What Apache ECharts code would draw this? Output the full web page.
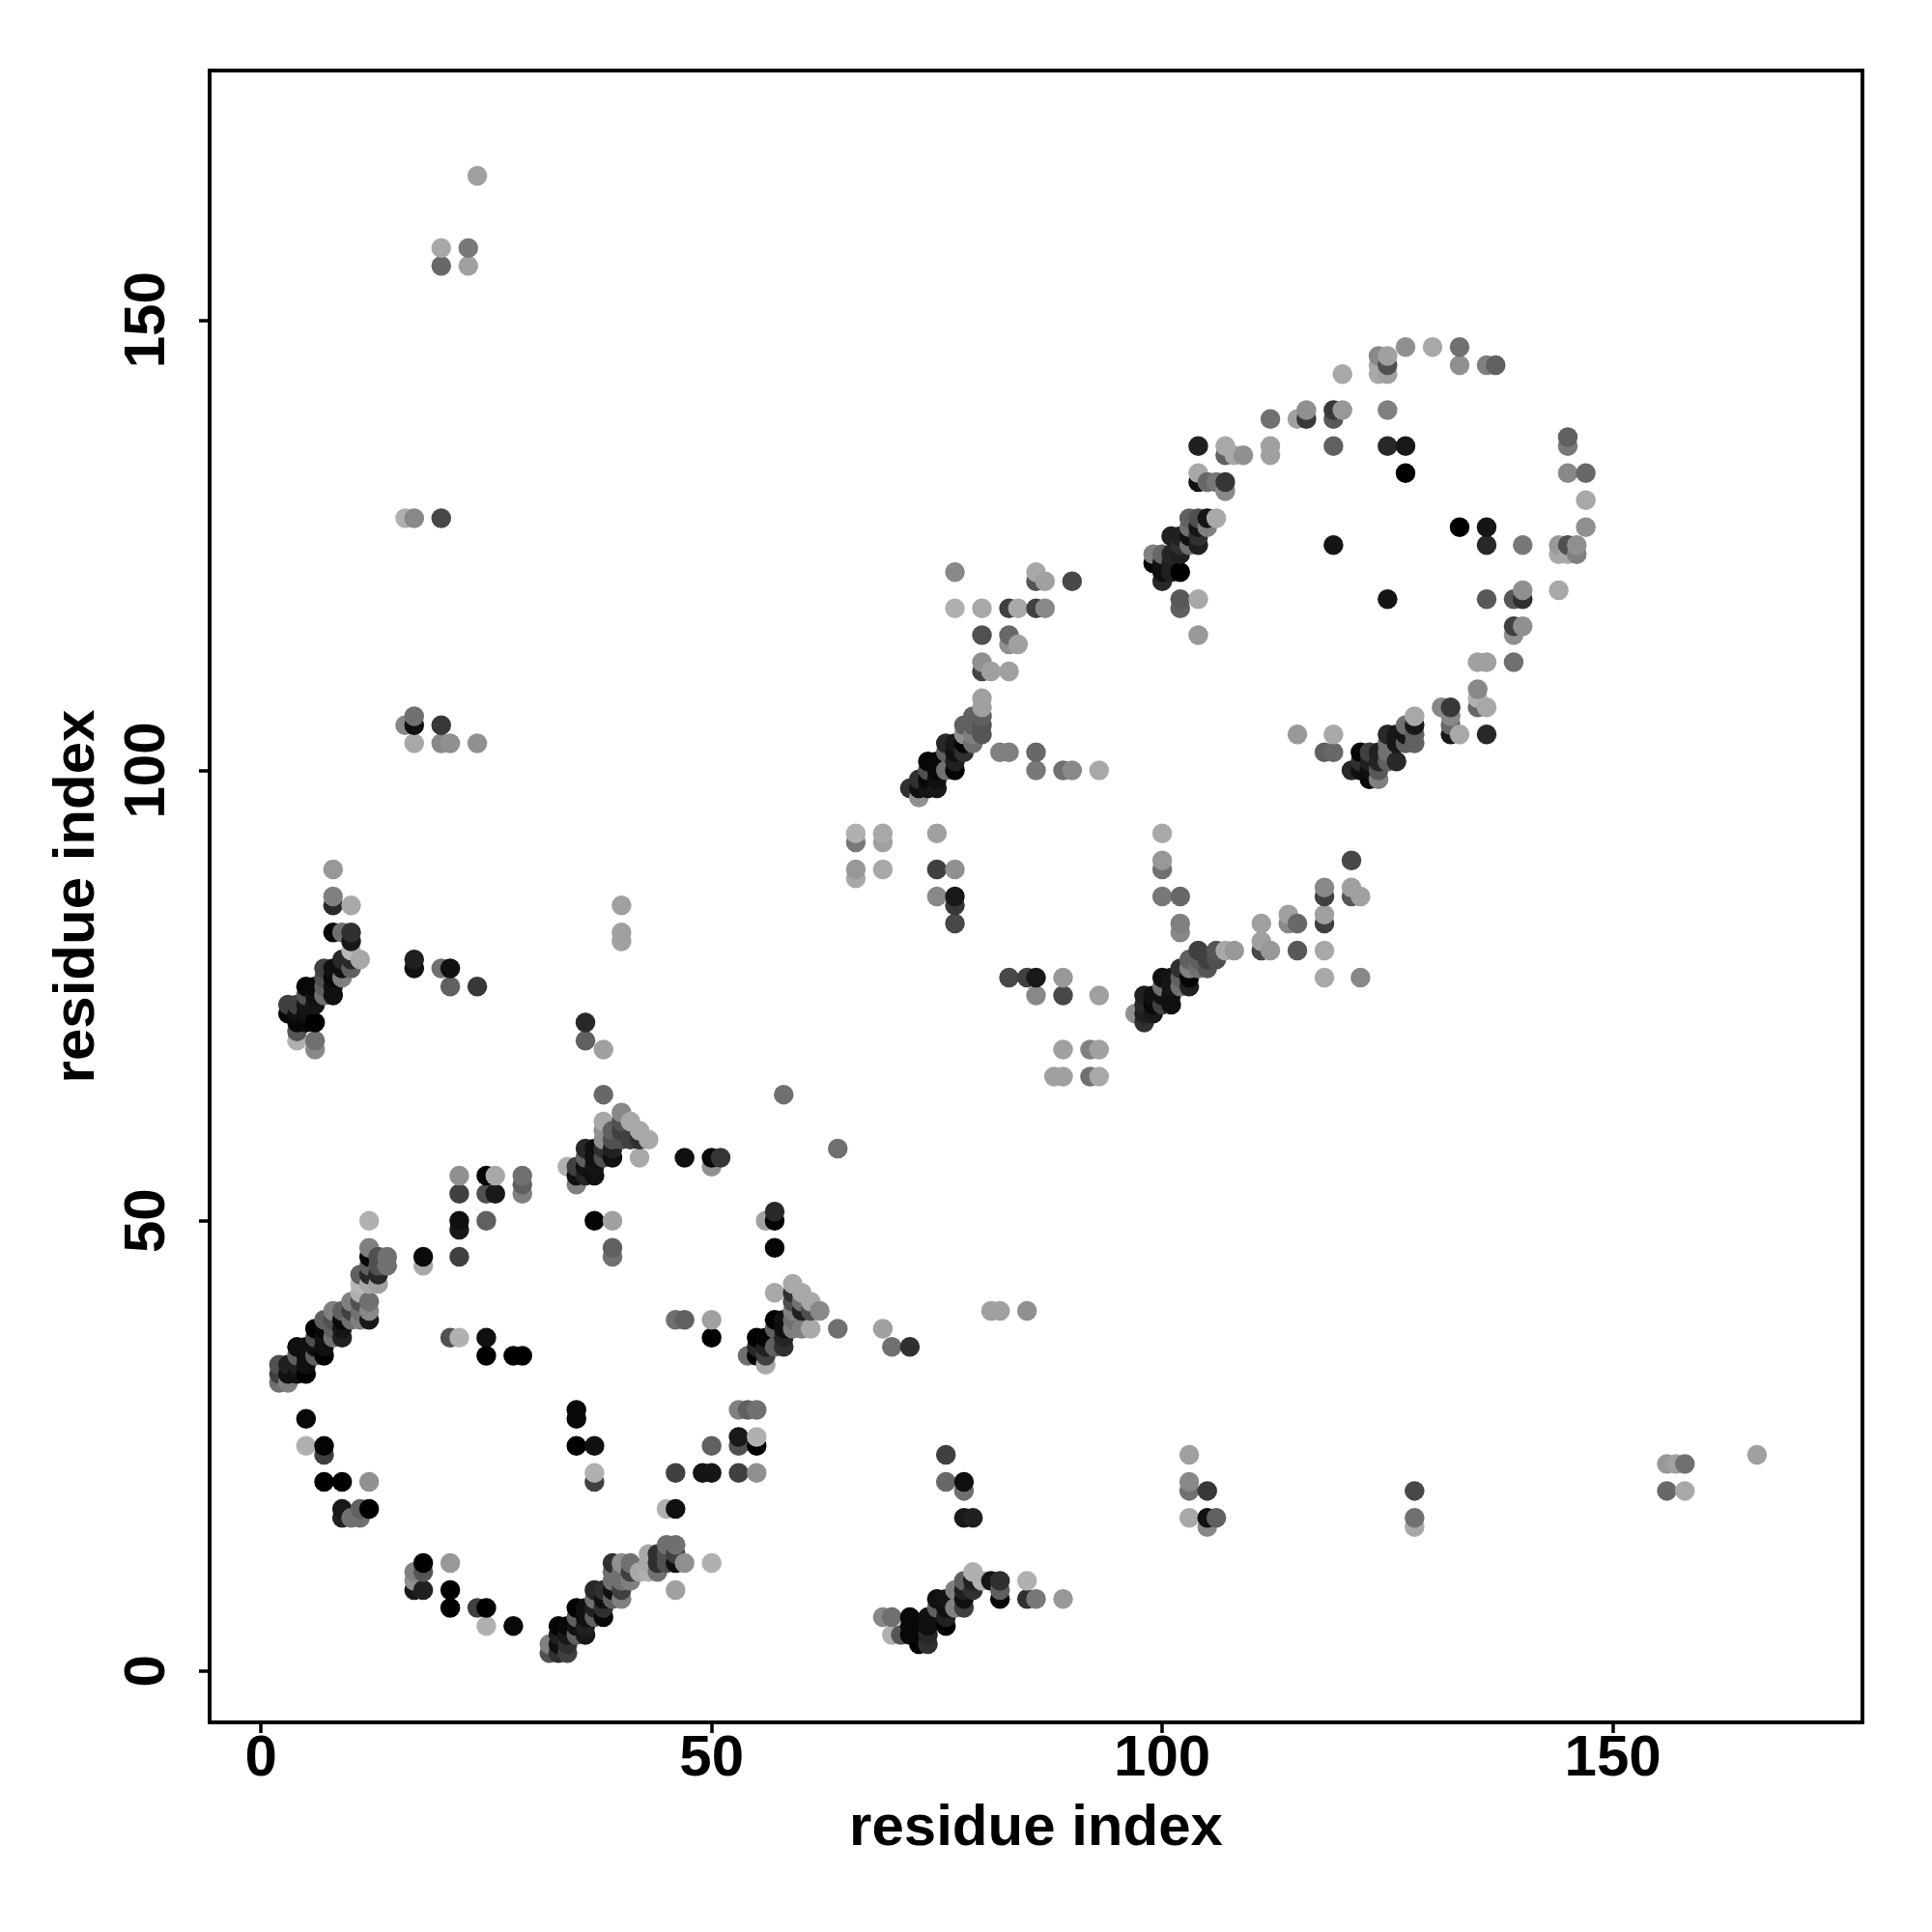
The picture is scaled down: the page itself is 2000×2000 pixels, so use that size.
<!DOCTYPE html>
<html>
<head>
<meta charset="utf-8">
<style>html,body{margin:0;padding:0;background:#fff}#c{width:2000px;height:2000px}</style>
<script src="https://cdn.jsdelivr.net/npm/echarts@6/dist/echarts.min.js"></script>
</head>
<body>
<div id="c"></div>
<script>
const tickValues = [0, 50, 100, 150];
const axisTitle = 'residue index';
const residueI = [2,3,4,5,6,7,8,9,10,11,12,13,14,16,17,18,20,21,22,23,24,25,26,28,29,32,33,34,35,36,37,38,39,40,41,42,43,44,45,46,47,49,50,51,53,54,55,56,57,58,59,60,61,62,64,66,69,70,71,72,73,74,75,76,77,78,79,80,81,82,83,84,85,86,87,88,89,90,92,93,97,98,99,100,101,102,103,104,105,106,107,108,109,111,112,114,115,116,118,119,120,121,122,123,124,125,126,127,128,130,131,132,133,135,136,137,139,140,144,145,146,147,156,157,158,166];
const partners = [
[32,33,34],
[32,33,34,73,74],
[33,34,35,36,70,71,72,73,74],
[25,28,33,34,35,36,72,73,74,75,76],
[35,36,37,38,69,70,72,74,75,76],
[21,24,25,35,36,37,38,39,75,76,77,78],
[37,38,39,40,75,76,77,78,82,85,86,89],
[17,18,21,37,38,39,40,77,78,79,82],
[17,39,40,41,78,79,80,81,82,85],
[17,18,39,40,41,42,43,44,79],
[18,21,39,40,41,43,44,45,46,47,50],
[43,44,45,46],
[45,46],
[105,128],
[9,10,11,78,79,103,105,106,128],
[9,11,12,45,46],
[78,103,105,128,156,158],
[7,9,12,37,76,78,103],
[37,46,49,50,53,55],
[156,158],
[7,76,103,166],
[5,7,35,37,50,53,55],
[53,55],
[5,35],
[35,53,54,55],
[2,3],
[2,3,4,5],
[2,3,4,5,56],
[4,5,6,7,25,28,29,54,55,56],
[4,5,6,7,55,56,57,58,70,72],
[6,7,8,9,21,22,25,50,55,56,57,58],
[6,7,8,9,57,58,59,60,61,64,69],
[8,9,10,11,12,46,47,50,57,58,59,60],
[8,9,10,11,12,59,60,61,62,81,82,85],
[10,11,12,59,61],
[11,57,59,60],
[11,12,13,59],
[11,12,13],
[12,13,14,18],
[9,12,13,14,18,22,39],
[12,39,57],
[22],
[12,22,25,37,39,56,57],
[57],
[22,25,26,29],
[29,35],
[22,25,26,29,35,36,37],
[34,35,36,37,50],
[36,38,39,42,47,50,51],
[36,37,38,39,64],
[38,39,40,41,42,43],
[38,40,41,42],
[38,40,41],
[40],
[38,58],
[88,89,92,93],
[6,38,89,92,93],
[4,6,36],
[4],
[4,5,6,36,98],
[3,4,5,97,98,99],
[3,4,5,6,98,99,100,101],
[6,7,8,86,89,93,98,99,100,101],
[5,6,7,8,21,24,100,102,103],
[7,9,83,85,86,89,100,101,102,103,118,122],
[7,8,9,10,17,20,21,102,103,104,105],
[9,10,11,17,103,104,105,106],
[10,104,105,106,107,108,111,112,115,118],
[10,40,111],
[8,9,10,40,102],
[77,102,111,114,115,118],
[114,118],
[8,10,40,77],
[8,75,77,100,102,118,121,122],
[118,121],
[66],
[8,66,69,75,77,100],
[100,121],
[66,69],
[66,69,75,100],
[73],
[72,73,74,75],
[73,74,75,123,124],
[74,75,76,77,86,89,90,93,121,122,123,124],
[74,75,76,77,122,123,124,126],
[76,77,78,82,83,86,118,119,122,124,125,126],
[17,20,21,24,76,77,78,79,125,126,127,128],
[78,79,80,115,119,125,126,127,128,132,133,136],
[16,17,20,78,79,127,128,132],
[17,79,80,128,132],
[80,131,132,135,136],
[80,135],
[135],
[80,81,83],
[80,135,136,139],
[83,84],
[80,83,104,139],
[139,140],
[77,80,83,84,86,87,102],
[102,104,125,136,139,140],
[140,144],
[86,87,90,100],
[77,86,100,101,102],
[99,100,101,102],
[99,100,101,102,144,145,146],
[101,102,103,104,119,136,140,144,145,146],
[101,103,104],
[103,104,105,133,136,147],
[16,17,20,103,104,105,106],
[147],
[107],
[104,105,106,107],
[104,127,145,147],
[107,108,109,112],
[104,107,112,119,125,127,145],
[145],
[112,115,116,119],
[116,119,120,125],
[120,124,125],
[124,125,133,136,137],
[124,125],
[127,130,133],
[20,23],
[23],
[20,23],
[24]
];
const shades = [
[0x70,0x40,0x50],
[0x80,0x10,0x20,0x08,0x40],
[0x10,0x20,0x60,0x10,0xb0,0x55,0x08,0x10,0x40],
[0xb0,0x08,0x00,0x10,0x10,0x10,0x08,0x10,0x15,0x50,0x08],
[0x60,0x10,0x50,0x00,0x88,0x70,0x00,0x15,0x10,0x08],
[0x00,0x40,0x05,0x00,0x10,0x10,0x08,0x60,0x70,0x60,0x50,0x40],
[0x70,0x60,0x50,0x80,0x10,0x10,0x08,0x10,0x08,0x28,0x80,0x98],
[0x20,0x18,0x00,0x20,0x15,0x08,0x60,0x80,0x10,0x28,0x70],
[0x70,0x70,0x40,0x80,0x60,0x28,0xb8,0x18,0x30,0xa8],
[0x70,0x60,0x80,0x70,0x50,0xb0,0xb8,0x60,0xa8],
[0x00,0x90,0x18,0x88,0x70,0xa8,0x28,0x60,0x08,0x80,0xb0],
[0xa0,0x28,0x50,0x50],
[0x70,0x70],
[0x88,0xb0],
[0x18,0x90,0x80,0x10,0x20,0xa8,0x10,0x70,0x88],
[0x20,0x55,0x00,0xa8,0x0a],
[0x70,0x88,0x38,0x48,0x68,0xa8],
[0x00,0x00,0x98,0x50,0x60,0x10,0x90],
[0xb0,0x40,0x18,0x10,0x40,0x90],
[0xa0,0x78],
[0x40,0x38,0x90,0xa0],
[0xb0,0x00,0x00,0x10,0x60,0x50,0x05],
[0x18,0xa8],
[0x08,0x00],
[0x00,0x80,0x60,0x70],
[0x50,0x80],
[0x30,0x10,0x20,0x05],
[0x40,0x30,0x18,0x08,0xb0],
[0x60,0x10,0x60,0x00,0x00,0x08,0x08,0x80,0x10,0x40],
[0x18,0x20,0x10,0x10,0x25,0x10,0x60,0x28,0x60,0x28],
[0x60,0x20,0x70,0x28,0x40,0xb0,0x10,0x05,0x10,0x15,0x10,0x10],
[0x08,0x30,0x10,0x30,0x50,0x30,0x90,0x90,0xa8,0x68,0xa0],
[0x60,0x10,0x70,0x70,0x30,0x70,0x60,0xa0,0x10,0x20,0x50,0x60],
[0x80,0x40,0x70,0x70,0x90,0x50,0x40,0x50,0x88,0xa0,0xa0,0xa0],
[0x80,0x40,0x70,0x40,0xa8],
[0xa8,0xa8,0x30,0xa8],
[0xb0,0xa8,0xa8,0xa8],
[0x70,0x30,0x30],
[0x50,0x50,0x70,0xb0],
[0xa0,0x10,0x40,0x70,0x10,0x40,0x70],
[0x90,0x60,0x10],
[0x15],
[0xb0,0x15,0x60,0x00,0xa0,0x90,0x08],
[0x35],
[0x40,0x50,0x18,0x80],
[0x60,0x70],
[0x90,0x00,0xb0,0x70,0x05,0x28,0x00],
[0xa8,0x40,0x20,0x05,0xa0],
[0x60,0x60,0x00,0xa8,0x05,0x05,0x28],
[0x30,0x25,0x10,0x10,0x70],
[0x80,0x70,0x80,0x50,0x30,0xa8],
[0x80,0x20,0x70,0xa8],
[0xa8,0x50,0xa8],
[0x88],
[0x70,0x70],
[0xa8,0x98,0x78,0xb0],
[0x88,0xa0,0xa8,0xa0,0xa8],
[0xb0,0x70,0x70],
[0x55],
[0x08,0x08,0x08,0x30,0x30],
[0x00,0x08,0x08,0x90,0x10,0x30],
[0x30,0x28,0x10,0x10,0x15,0x08,0x50,0x05],
[0x10,0x60,0x10,0x88,0x40,0xa0,0x18,0x10,0x08,0x08],
[0x00,0x20,0x10,0x15,0x68,0x40,0x70,0x60,0x28],
[0x80,0x80,0x48,0x38,0x18,0x90,0x05,0x20,0x10,0x18,0xb0,0x88],
[0x40,0x10,0x20,0x60,0x18,0x70,0x10,0x30,0x05,0x90,0x60],
[0x30,0x20,0xb0,0x20,0x70,0x80,0x60,0x60],
[0xb0,0x55,0x55,0x60,0xa0,0xa0,0x45,0x90,0x50,0xa8],
[0x15,0xa0,0xa0],
[0x08,0x60,0x30,0xa0,0x80],
[0x48,0x80,0xa0,0x90,0x68,0x40],
[0xa0,0xa8],
[0x30,0xb0,0x90,0x40],
[0x78,0x88,0x18,0x78,0x68,0x40,0x55,0xa8],
[0x88,0xa0],
[0xa0],
[0x98,0xa0,0xa0,0x48,0x98,0x70],
[0x88,0x48],
[0x70,0x80],
[0xa8,0xa0,0xa0,0xa8],
[0x90],
[0x30,0x20,0x28,0x20],
[0x18,0x08,0x10,0x05,0x80],
[0x40,0x10,0x70,0x10,0x78,0x70,0x98,0xa8,0x28,0x10,0x10,0x68],
[0x10,0x10,0x15,0x15,0x20,0x20,0x25,0x20],
[0x70,0x60,0x30,0x88,0x80,0x68,0x60,0x58,0x00,0x20,0x30,0x20],
[0xa8,0x70,0x88,0xa0,0x20,0x05,0x80,0x60,0x70,0x10,0x70,0x60],
[0x70,0x60,0x40,0x98,0xa8,0x20,0x30,0x15,0x50,0x10,0xa8,0x20],
[0x88,0x10,0x38,0x55,0x40,0x80,0x15,0x68],
[0x60,0x50,0x55,0xa8,0x78],
[0xa8,0x88,0x35,0x60,0xa8],
[0x98,0xa8],
[0x90],
[0x48,0xa0,0xa0],
[0x98,0xa0,0xa0,0x70],
[0x88,0xa0],
[0x58,0x68,0x98,0xa0],
[0x38,0x90],
[0xa8,0xa8,0x40,0xa0,0x40,0x88,0x60],
[0x68,0xa8,0x15,0x60,0x58,0x38],
[0x98,0xa8],
[0x55,0xa0,0x48,0x28],
[0x88,0xa0,0x10,0x30,0x05],
[0x08,0x10,0x20,0x40],
[0x80,0x58,0x25,0x20,0xa8,0xa8,0x88],
[0x60,0x70,0x70,0x28,0x15,0x28,0x80,0xa0,0x50,0xa0],
[0x28,0x18,0x18],
[0x60,0x15,0x70,0x00,0x18,0x90],
[0xa8,0x70,0x48,0x60,0x60,0x18,0xa8],
[0xa8],
[0x88],
[0x18,0x68,0x88,0x38],
[0xa8,0x00,0x90,0x70],
[0x68,0xb0,0x88,0xa0],
[0x28,0xa8,0xa0,0x58,0x28,0x15,0x80],
[0x60],
[0x70,0x90,0x40,0x58],
[0x90,0x30,0x90,0x78],
[0xa8,0xa8,0x98],
[0xa8,0x50,0x88,0x78,0x60],
[0x80,0x90],
[0x90,0xa8,0x68],
[0x68,0x98],
[0xa0],
[0xa8,0x70],
[0xa0]
];

const points = [];
residueI.forEach((x, i) => {
  partners[i].forEach((y, k) => points.push([x, y, shades[i][k]]));
});

const chart = echarts.init(document.getElementById('c'), null, {renderer: 'canvas', width: 2000, height: 2000});
const font = {fontFamily: '"Liberation Sans", Arial, sans-serif', fontWeight: 'bold', fontSize: 60, color: '#000'};
function axis(extra) {
  return Object.assign({
    type: 'value', min: -5.7, max: 177.7,
    name: axisTitle, nameLocation: 'middle',
    nameMoveOverlap: false,
    nameTextStyle: font,
    axisLine: {show: false, onZero: false},
    axisTick: {show: true, length: 11, lineStyle: {color: '#000', width: 3.5}, customValues: tickValues},
    splitLine: {show: false}
  }, extra);
}
chart.setOption({
  animation: false,
  backgroundColor: '#fff',
  grid: {left: 217, right: 72, top: 73, bottom: 217, show: true, borderColor: '#000', borderWidth: 4, backgroundColor: 'transparent'},
  xAxis: axis({nameGap: 80, axisLabel: Object.assign({margin: 8, customValues: tickValues}, font)}),
  yAxis: axis({nameGap: 107, nameRotate: 90, axisLabel: Object.assign({margin: 64, rotate: 90, customValues: tickValues, verticalAlign: 'middle', align: 'center'}, font)}),
  series: [{
    type: 'scatter', silent: true, symbol: 'circle', symbolSize: 20.5,
    progressive: 0, large: false, clip: false,
    data: points,
    itemStyle: {opacity: 1, color: p => { const g = p.value[2]; return `rgb(${g},${g},${g})`; }}
  }]
});
</script>
</body>
</html>
